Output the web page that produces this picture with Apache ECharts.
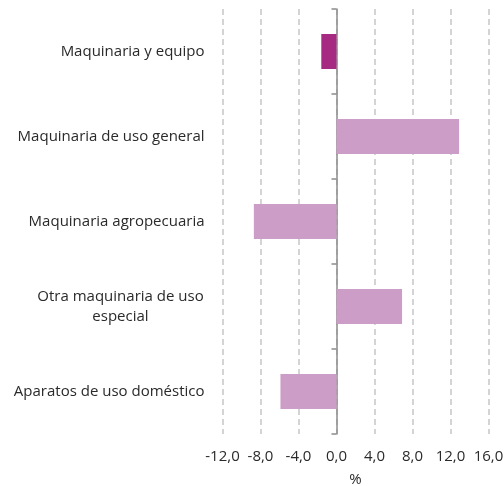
<!DOCTYPE html>
<html>
<head>
<meta charset="utf-8">
<script src="https://cdn.jsdelivr.net/npm/echarts@6/dist/echarts.min.js"></script>
<style>
  html, body { margin: 0; padding: 0; background: #fff; }
  #main { width: 504px; height: 486px; }
</style>
</head>
<body>
<div id="main"></div>
<script>
// categorías (de arriba hacia abajo)
var categorias = [
    'Maquinaria y equipo',
    'Maquinaria de uso general',
    'Maquinaria agropecuaria',
    'Otra maquinaria de uso\nespecial',
    'Aparatos de uso doméstico'
];
// variación en %
var valores = [-1.6, 12.9, -8.7, 6.9, -5.9];
// el total va con otro color
var colores = ['#a62a81', '#cc9dc6', '#cc9dc6', '#cc9dc6', '#cc9dc6'];
var ticksX = [-12, -8, -4, 0, 4, 8, 12, 16];

var font = '"Open Sans", "Liberation Sans", sans-serif';

var datos = [];
for (var i = 0; i < valores.length; i++) {
    datos.push({ value: valores[i], itemStyle: { color: colores[i] } });
}

var myChart = echarts.init(document.getElementById('main'));
var option = {
    animation: false,
    grid: { left: 222.5, right: 15.5, top: 9, bottom: 52, containLabel: false, outerBoundsMode: 'none' },
    xAxis: {
        type: 'value',
        min: ticksX[0],
        max: ticksX[ticksX.length - 1],
        interval: 4,
        name: '%',
        nameLocation: 'middle',
        nameGap: 38,
        nameTextStyle: { color: '#2a2a2a', fontSize: 15, fontFamily: font },
        axisLine: { show: false },
        axisTick: { show: false },
        axisLabel: {
            color: '#2a2a2a',
            fontSize: 15,
            fontFamily: font,
            margin: 15,
            formatter: function (v) { return v.toFixed(1).replace('.', ','); }
        },
        splitLine: {
            show: true,
            lineStyle: { color: '#c6c6c6', width: 1.5, type: [6, 4] }
        }
    },
    yAxis: [
        {
            // solo etiquetas
            type: 'category',
            data: categorias,
            inverse: true,
            position: 'left',
            axisLine: { show: false, onZero: false },
            axisTick: { show: false },
            axisLabel: {
                margin: 18,
                fontSize: 15,
                fontFamily: font,
                color: '#2a2a2a',
                formatter: function (v) {
                    var partes = v.split('\n');
                    if (partes.length == 1) return v;
                    return partes.map(function (p) { return '{c|' + p + '}'; }).join('\n');
                },
                rich: {
                    c: { width: 168, align: 'center', fontSize: 15, fontFamily: font, color: '#2a2a2a', lineHeight: 20 }
                }
            }
        },
        {
            // eje en el cero con marcas
            type: 'category',
            data: categorias,
            inverse: true,
            position: 'left',
            axisLine: { show: true, onZero: true, lineStyle: { color: '#8c8c8c', width: 1.5 } },
            axisTick: { show: true, length: 5, lineStyle: { color: '#8c8c8c', width: 1.5 } },
            axisLabel: { show: false }
        }
    ],
    series: [
        {
            type: 'bar',
            yAxisIndex: 0,
            barWidth: 35,
            data: datos
        }
    ]
};
myChart.setOption(option);
window.onresize = myChart.resize;
</script>
</body>
</html>
